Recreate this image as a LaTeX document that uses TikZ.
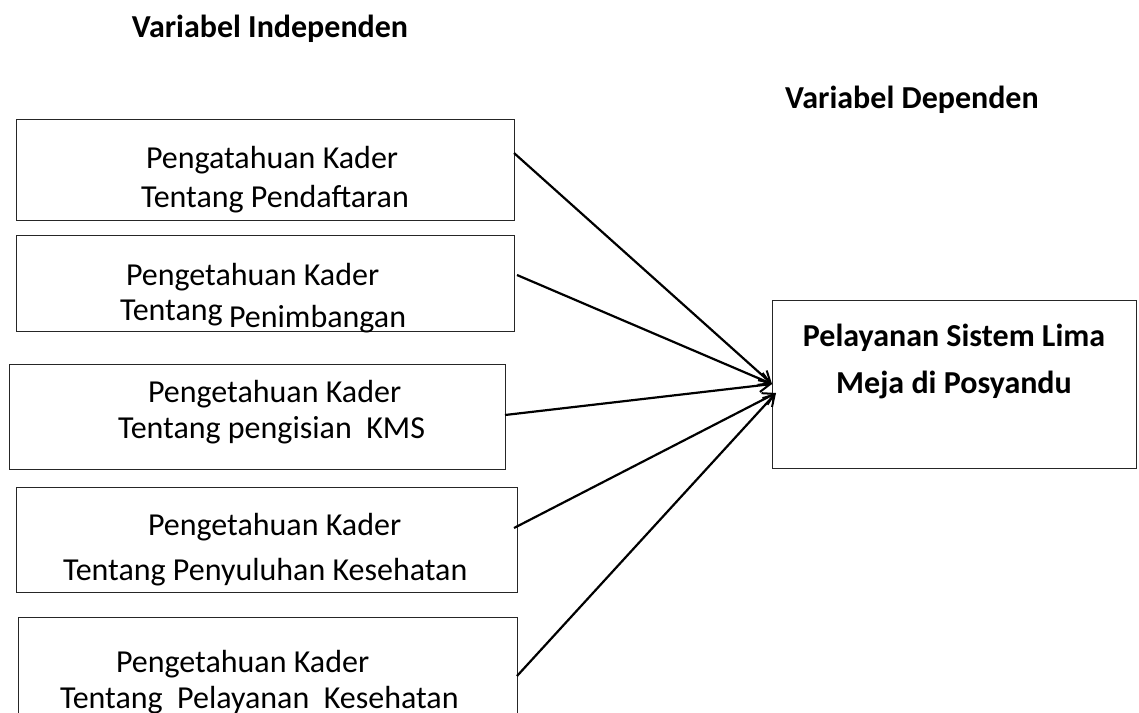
\documentclass[tikz,border=0pt]{standalone}
\usepackage{fontspec}
\setmainfont{Carlito}
\usetikzlibrary{arrows.meta,calc}
\tikzset{
  box/.style={draw=black!85, line width=1pt, inner sep=0pt, outer sep=0pt, anchor=north west, fill=white},
  txt/.style={inner sep=0pt, outer sep=0pt, anchor=base west, font=\fontsize{32}{38}\selectfont},
  btxt/.style={inner sep=0pt, outer sep=0pt, anchor=base, font=\fontsize{32}{38}\selectfont\bfseries},
  conn/.style={line width=2.2pt, -{Straight Barb[length=11pt,width=13pt,line width=2pt]}}
}
\begin{document}
\begin{tikzpicture}[x=1pt,y=-1pt]
\clip (0,0) rectangle (1139,712);
\fill[white] (0,0) rectangle (1139,712);
% titles
\node[btxt] (title1) at (270,37) {Variabel Independen};
\node[btxt] (title2) at (912,108) {Variabel Dependen};
% boxes
\node[box, minimum width=498pt, minimum height=101pt] (b1) at (16,119) {};
\node[box, minimum width=498pt, minimum height=96pt] (b2) at (16,235) {};
\node[box, minimum width=496pt, minimum height=105pt] (b3) at (9,364) {};
\node[box, minimum width=501pt, minimum height=105pt] (b4) at (16,487) {};
\node[box, minimum width=499pt, minimum height=140pt] (b5) at (18,617) {};
\node[box, minimum width=364pt, minimum height=168pt] (tgt) at (772,300) {};
% texts
\node[txt] (t1a) at (146,168) {Pengatahuan Kader};
\node[txt] (t1b) at (141,207) {Tentang Pendaftaran};
\node[txt] (t2a) at (126,285) {Pengetahuan Kader};
\node[txt] (t2b) at (120,320) {Tentang};
\node[txt] (t2c) at (229,327) {Penimbangan};
\node[txt] (t3a) at (148,402) {Pengetahuan Kader};
\node[txt] (t3b) at (118,438) {Tentang pengisian\ \ KMS};
\node[txt] (t4a) at (148,535) {Pengetahuan Kader};
\node[txt] (t4b) at (63,580) {Tentang Penyuluhan Kesehatan};
\node[txt] (t5a) at (116,672) {Pengetahuan Kader};
\node[txt] (t5b) at (60,708) {Tentang\ \ Pelayanan\ \ Kesehatan};
\node[btxt] (tga) at (954,346) {Pelayanan Sistem Lima};
\node[btxt] (tgb) at (954,393) {Meja di Posyandu};
% connector ends
\coordinate (endA) at (tgt.west);
\coordinate (endB) at ($(tgt.west)+(4,9)$);
\coordinate (s1) at ($(b1.north east)+(0,34)$);
\coordinate (s2) at ($(b2.north east)+(3,40)$);
\coordinate (s3) at ($(b3.north east)+(0,51)$);
\coordinate (s4) at ($(b4.north east)+(-3,41)$);
\coordinate (s5) at ($(b5.north east)+(0,59)$);
\draw[conn] (s1) -- (endA);
\draw[conn] (s2) -- (endA);
\draw[conn] (s3) -- (endA);
\draw[conn] (s4) -- (endB);
\draw[conn] (s5) -- (endB);
\end{tikzpicture}
\end{document}
